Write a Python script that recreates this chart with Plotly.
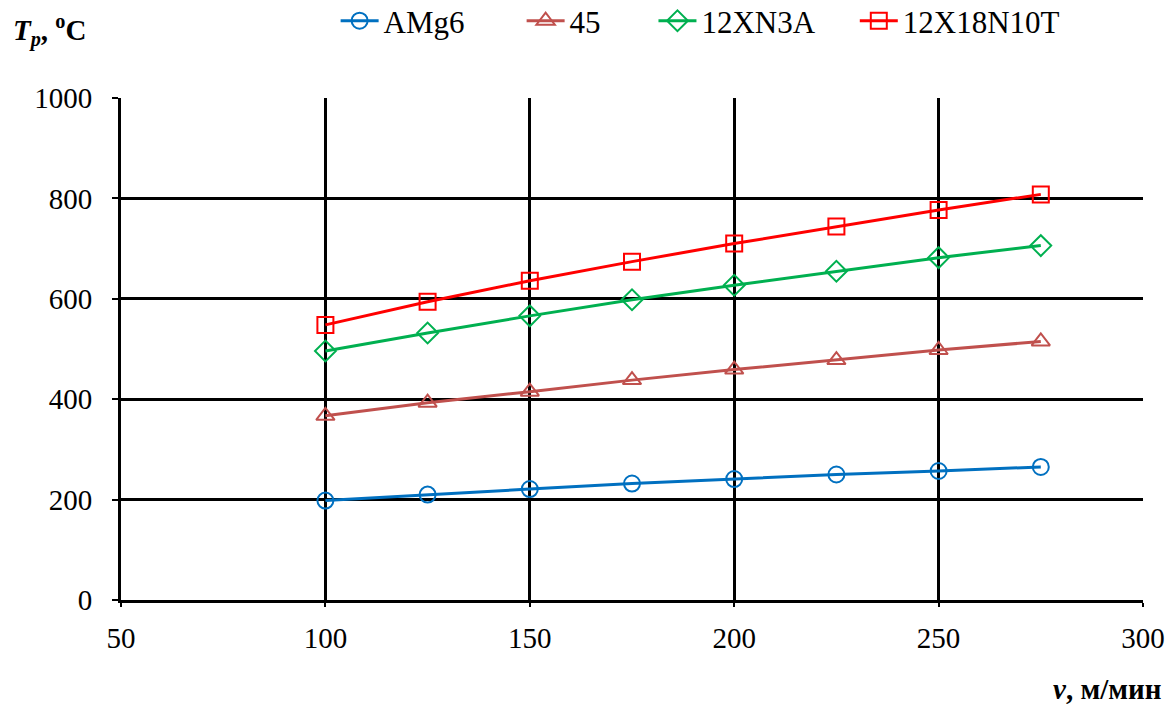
import plotly.graph_objects as go

v = [100, 125, 150, 175, 200, 225, 250, 275]
amg6 = [198, 210, 221, 232, 241, 250, 257, 265]
st45 = [367, 393, 415, 438, 459, 478, 498, 515]
x12n3a = [496, 532, 566, 598, 627, 655, 682, 706]
x18n10t = [548, 594, 636, 674, 710, 744, 777, 808]

names = ["AMg6", "45", "12XN3A", "12X18N10T"]
values = [amg6, st45, x12n3a, x18n10t]
colors = ["#0070C0", "#C0504D", "#00B050", "#FF0000"]
symbols = ["circle-open", "triangle-up-open", "diamond-open", "square-open"]
legend_x = [0.21, 0.392, 0.521, 0.718]

FONT = "Liberation Serif"
FS = 29

fig = go.Figure()
legend_ids = ["legend", "legend2", "legend3", "legend4"]
for i, (name, ys, col, sym) in enumerate(zip(names, values, colors, symbols)):
    fig.add_trace(go.Scatter(
        x=v, y=ys, name=name, mode="lines+markers",
        line=dict(color=col, width=3),
        marker=dict(symbol=sym, size=16, color=col, line=dict(width=2, color=col)),
        legend=legend_ids[i],
    ))

layout_legends = {}
for i, lid in enumerate(legend_ids):
    layout_legends[lid] = dict(
        orientation="h", x=legend_x[i], xanchor="left", y=1.207, yref="paper",
        yanchor="top", font=dict(size=31, family=FONT, color="black"),
        bgcolor="rgba(0,0,0,0)", borderwidth=0, itemwidth=38,
    )

fig.update_layout(
    width=1173, height=719,
    margin=dict(l=121, r=30, t=98, b=119, autoexpand=False),
    paper_bgcolor="white", plot_bgcolor="white",
    font=dict(family=FONT, size=FS, color="black"),
    showlegend=True,
    **layout_legends,
)
fig.update_xaxes(
    range=[50, 300], tickvals=[50, 100, 150, 200, 250, 300],
    showgrid=True, gridcolor="black", gridwidth=3,
    showline=True, linecolor="black", linewidth=3, mirror=False,
    ticks="outside", ticklen=4, tickcolor="black", tickwidth=2,
    zeroline=False, ticklabelstandoff=6,
    tickfont=dict(family=FONT, size=FS),
)
fig.update_yaxes(
    range=[0, 1000], tickvals=[0, 200, 400, 600, 800, 1000],
    showgrid=True, gridcolor="black", gridwidth=3,
    showline=True, linecolor="black", linewidth=3,
    ticks="outside", ticklen=6, tickcolor="black", tickwidth=2,
    zeroline=False, ticklabelstandoff=14,
    tickfont=dict(family=FONT, size=FS),
)
fig.add_annotation(text="<b><i>T<sub>p</sub></i>, <sup>o</sup>C</b>", xref="paper", yref="paper",
                   x=-0.108, y=1.135, xanchor="left", yanchor="middle", showarrow=False,
                   font=dict(size=FS, family=FONT))
fig.add_annotation(text="<b><i>v</i>, м/мин</b>", xref="paper", yref="paper",
                   x=1.02, y=-0.177, xanchor="right", yanchor="middle", showarrow=False,
                   font=dict(size=FS, family=FONT))

fig.write_html("out.html")
